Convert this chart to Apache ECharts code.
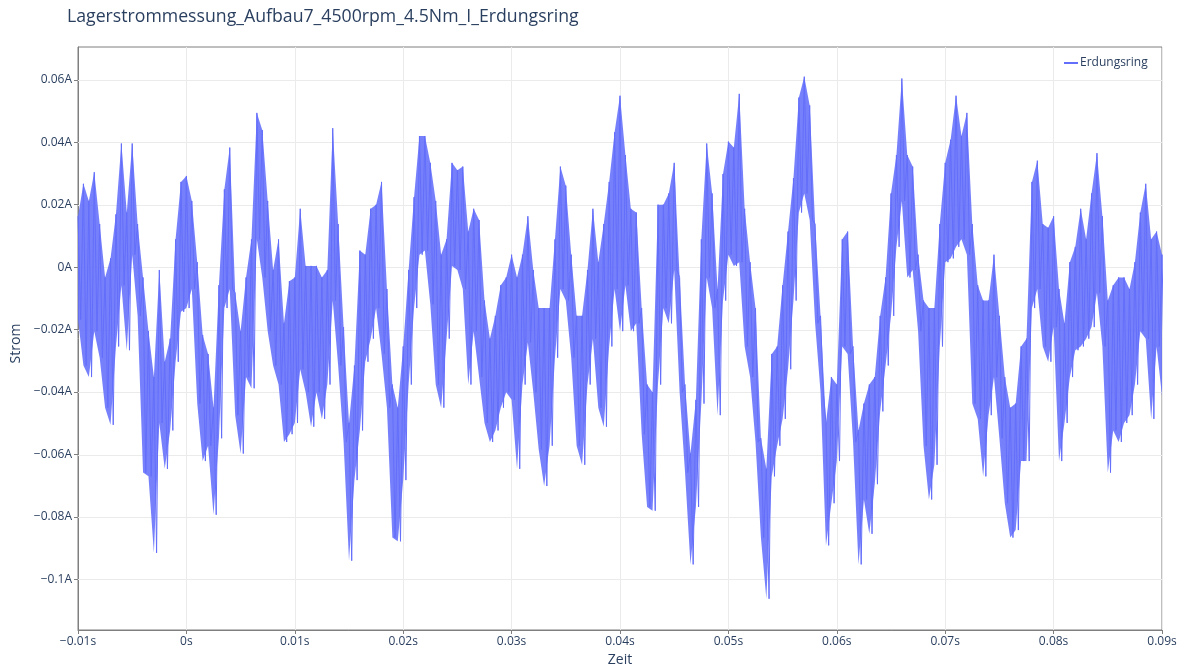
<!DOCTYPE html>
<html>
<head>
<meta charset="utf-8">
<script src="https://cdn.jsdelivr.net/npm/echarts@6/dist/echarts.min.js"></script>
<style>
  html, body { margin: 0; padding: 0; background: #ffffff; overflow: hidden; }
  #chart { width: 1181px; height: 666px; }
</style>
</head>
<body>
<div id="chart"></div>
<script>
// Bearing current through the grounding ring, sampled every 0.5 ms.
// Each sample holds the upper and lower extent of the signal within that slot.
const sampleStart = -0.01;   // s
const sampleStep = 0.0005;   // s

const upperA = [
  0.0163, 0.0267, 0.0212, 0.0304, 0.0138, -0.0033, 0.0028, 0.0169, 0.0396, 0.0175,
  0.0396, 0.0138, -0.0033, -0.0205, -0.0352, -0.0009, -0.0303, -0.0229, 0.0089, 0.0273,
  0.0292, 0.0212, 0.0016, -0.0217, -0.0278, -0.0450, -0.0058, 0.0249, 0.0383, -0.0082,
  -0.0205, -0.0033, 0.0089, 0.0494, 0.0439, 0.0212, -0.0009, 0.0089, -0.0180, -0.0045,
  -0.0033, 0.0187, 0.0004, 0.0004, 0.0004, -0.0033, -0.0009, 0.0445, 0.0138, -0.0192,
  -0.0499, -0.0315, 0.0053, 0.0040, 0.0187, 0.0200, 0.0273, -0.0070, -0.0376, -0.0450,
  -0.0254, -0.0009, 0.0224, 0.0420, 0.0420, 0.0334, 0.0212, 0.0040, 0.0089, 0.0334,
  0.0310, 0.0322, 0.0114, 0.0187, 0.0151, -0.0107, -0.0229, -0.0156, -0.0058, -0.0033,
  0.0040, -0.0033, 0.0040, 0.0163, -0.0009, -0.0131, -0.0131, -0.0131, 0.0089, 0.0322,
  0.0261, 0.0040, -0.0156, -0.0156, -0.0009, 0.0187, 0.0016, 0.0138, 0.0273, 0.0432,
  0.0549, 0.0359, 0.0187, 0.0175, -0.0131, -0.0376, -0.0401, 0.0200, 0.0200, 0.0236,
  0.0334, -0.0033, -0.0376, -0.0597, -0.0425, 0.0089, 0.0396, 0.0236, -0.0070, 0.0298,
  0.0402, 0.0383, 0.0555, 0.0187, 0.0016, -0.0131, -0.0548, -0.0646, -0.0278, -0.0254,
  -0.0058, 0.0114, 0.0285, 0.0543, 0.0610, 0.0518, 0.0138, -0.0156, -0.0499, -0.0352,
  -0.0376, 0.0089, 0.0114, -0.0254, -0.0523, -0.0437, -0.0376, -0.0352, -0.0156, -0.0033,
  0.0236, 0.0359, 0.0604, 0.0359, 0.0322, 0.0040, -0.0107, -0.0131, -0.0131, 0.0138,
  0.0334, 0.0408, 0.0549, 0.0420, 0.0494, 0.0138, -0.0058, -0.0107, -0.0107, 0.0040,
  -0.0156, -0.0352, -0.0450, -0.0437, -0.0254, -0.0229, 0.0273, 0.0341, 0.0138, 0.0126,
  0.0163, -0.0070, -0.0180, 0.0016, 0.0065, 0.0187, 0.0089, 0.0236, 0.0365, 0.0163,
  -0.0107, -0.0058, -0.0033, -0.0033, -0.0070, 0.0016, 0.0175, 0.0267, 0.0089, 0.0114,
  0.0040
];

const lowerA = [
  -0.0168, -0.0315, -0.0352, -0.0205, -0.0290, -0.0450, -0.0505, -0.0254, -0.0058, -0.0266,
  0.0040, -0.0156, -0.0658, -0.0670, -0.0915, -0.0499, -0.0646, -0.0523, -0.0303, -0.0143,
  -0.0131, -0.0070, -0.0437, -0.0621, -0.0572, -0.0793, -0.0548, -0.0131, -0.0070, -0.0474,
  -0.0597, -0.0352, -0.0388, 0.0089, -0.0033, -0.0205, -0.0315, -0.0376, -0.0560, -0.0535,
  -0.0499, -0.0327, -0.0401, -0.0511, -0.0401, -0.0486, -0.0376, -0.0107, -0.0315, -0.0560,
  -0.0940, -0.0682, -0.0523, -0.0303, -0.0229, -0.0131, -0.0278, -0.0450, -0.0866, -0.0878,
  -0.0682, -0.0376, -0.0131, 0.0040, 0.0053, -0.0119, -0.0376, -0.0450, -0.0229, 0.0004,
  -0.0009, -0.0070, -0.0376, -0.0205, -0.0352, -0.0499, -0.0560, -0.0523, -0.0450, -0.0401,
  -0.0425, -0.0646, -0.0376, -0.0241, -0.0401, -0.0584, -0.0701, -0.0572, -0.0290, -0.0070,
  -0.0107, -0.0290, -0.0572, -0.0633, -0.0376, -0.0229, -0.0450, -0.0511, -0.0254, -0.0070,
  -0.0205, -0.0058, -0.0205, -0.0180, -0.0535, -0.0768, -0.0780, -0.0376, -0.0131, -0.0180,
  -0.0009, -0.0401, -0.0658, -0.0952, -0.0768, -0.0437, -0.0033, -0.0131, -0.0474, -0.0107,
  0.0040, 0.0004, 0.0016, -0.0254, -0.0352, -0.0560, -0.0866, -0.1062, -0.0670, -0.0572,
  -0.0486, -0.0327, -0.0107, 0.0175, 0.0236, 0.0151, -0.0180, -0.0401, -0.0891, -0.0756,
  -0.0621, -0.0254, -0.0278, -0.0560, -0.0952, -0.0744, -0.0854, -0.0695, -0.0462, -0.0315,
  -0.0156, 0.0065, 0.0212, -0.0033, -0.0009, -0.0205, -0.0572, -0.0744, -0.0633, -0.0254,
  0.0016, 0.0028, 0.0065, 0.0089, 0.0040, -0.0437, -0.0486, -0.0670, -0.0474, -0.0352,
  -0.0548, -0.0756, -0.0866, -0.0842, -0.0621, -0.0621, -0.0131, -0.0070, -0.0254, -0.0303,
  -0.0192, -0.0621, -0.0499, -0.0352, -0.0266, -0.0254, -0.0229, -0.0192, -0.0082, -0.0254,
  -0.0658, -0.0523, -0.0560, -0.0499, -0.0474, -0.0376, -0.0205, -0.0229, -0.0486, -0.0254,
  -0.0413
];

const yTickValues = [-0.1, -0.08, -0.06, -0.04, -0.02, 0, 0.02, 0.04, 0.06];
const xTickStep = 0.01;
const xRange = [-0.01, 0.09];
const yRange = [-0.1162, 0.0705];

const textColor = '#2a3f5f';
const traceColor = '#636efa';
const gridColor = '#ebebeb';
const fontFamily = '"Open Sans", verdana, arial, sans-serif';

// Sample times and the zig-zag trace (upper extent, then lower extent half a slot later).
const times = upperA.map((_, k) => sampleStart + k * sampleStep);
const trace = [];
times.forEach((t, k) => {
  trace.push([t, upperA[k]]);
  trace.push([t + sampleStep / 2, lowerA[k]]);
});

function fmt(v, unit) {
  const s = String(parseFloat(Number(v).toFixed(6)));
  return s.replace('-', '\u2212') + unit;
}

const chart = echarts.init(document.getElementById('chart'), null, { renderer: 'canvas' });

chart.setOption({
  animation: false,
  backgroundColor: '#ffffff',
  title: {
    text: 'Lagerstrommessung_Aufbau7_4500rpm_4.5Nm_I_Erdungsring',
    left: 67,
    top: 8,
    padding: 0,
    textStyle: { color: textColor, fontFamily: fontFamily, fontSize: 17.7, fontWeight: 'normal' }
  },
  legend: {
    left: 1064,
    top: 57,
    padding: 0,
    itemWidth: 14,
    itemHeight: 2,
    itemGap: 4,
    textStyle: { color: textColor, fontFamily: fontFamily, fontSize: 12, padding: [0, 0, 0, -3] },
    data: [{ name: 'Erdungsring', icon: 'rect', itemStyle: { color: traceColor } }]
  },
  grid: {
    left: 78,
    right: 19,
    top: 47,
    bottom: 36,
    show: true,
    borderColor: '#7f7f7f',
    borderWidth: 1,
    containLabel: false,
    outerBoundsMode: 'none'
  },
  xAxis: {
    type: 'value',
    min: xRange[0],
    max: xRange[1],
    interval: xTickStep,
    name: 'Zeit',
    nameLocation: 'middle',
    nameGap: 22,
    nameTextStyle: { color: textColor, fontFamily: fontFamily, fontSize: 14 },
    axisLine: { show: true, onZero: false, lineStyle: { color: '#7f7f7f', width: 1 } },
    axisTick: { show: true, length: 4, lineStyle: { color: '#7f7f7f' } },
    axisLabel: {
      color: textColor, fontFamily: fontFamily, fontSize: 12, margin: 6,
      formatter: v => fmt(v, 's')
    },
    splitLine: { show: true, lineStyle: { color: gridColor, width: 1 } }
  },
  yAxis: {
    type: 'value',
    min: yRange[0],
    max: yRange[1],
    name: 'Strom',
    nameLocation: 'middle',
    nameGap: 54,
    nameTextStyle: { color: textColor, fontFamily: fontFamily, fontSize: 14, padding: [0, 10, 0, 0] },
    axisLine: { show: true, onZero: false, lineStyle: { color: '#7f7f7f', width: 1 } },
    axisTick: { show: true, length: 4, customValues: yTickValues, lineStyle: { color: '#7f7f7f' } },
    axisLabel: {
      color: textColor, fontFamily: fontFamily, fontSize: 12, margin: 6,
      customValues: yTickValues,
      formatter: v => fmt(v, 'A')
    },
    splitLine: { show: false }
  },
  series: [
    {
      // horizontal grid lines at the labelled current values
      type: 'custom',
      silent: true,
      z: 1,
      data: yTickValues.map(v => [v]),
      renderItem: (params, api) => {
        const v = api.value(0);
        const a = api.coord([xRange[0], v]);
        const b = api.coord([xRange[1], v]);
        return {
          type: 'line',
          shape: { x1: a[0], y1: Math.round(a[1]) + 0.5, x2: b[0], y2: Math.round(b[1]) + 0.5 },
          style: { stroke: gridColor, lineWidth: 1 }
        };
      }
    },
    {
      // filled band between the lower and upper extent of the signal
      type: 'custom',
      silent: true,
      z: 2,
      clip: true,
      data: [[0]],
      renderItem: (params, api) => {
        const pts = [];
        times.forEach((t, k) => pts.push(api.coord([t, upperA[k]])));
        for (let k = times.length - 1; k >= 0; k--) pts.push(api.coord([times[k], lowerA[k]]));
        return {
          type: 'polygon',
          shape: { points: pts },
          style: { fill: traceColor, opacity: 0.88 }
        };
      }
    },
    {
      name: 'Erdungsring',
      type: 'line',
      data: trace,
      z: 3,
      symbol: 'none',
      showSymbol: false,
      clip: true,
      lineStyle: { color: traceColor, width: 1 },
      itemStyle: { color: traceColor },
      emphasis: { disabled: true }
    }
  ]
});
</script>
</body>
</html>
